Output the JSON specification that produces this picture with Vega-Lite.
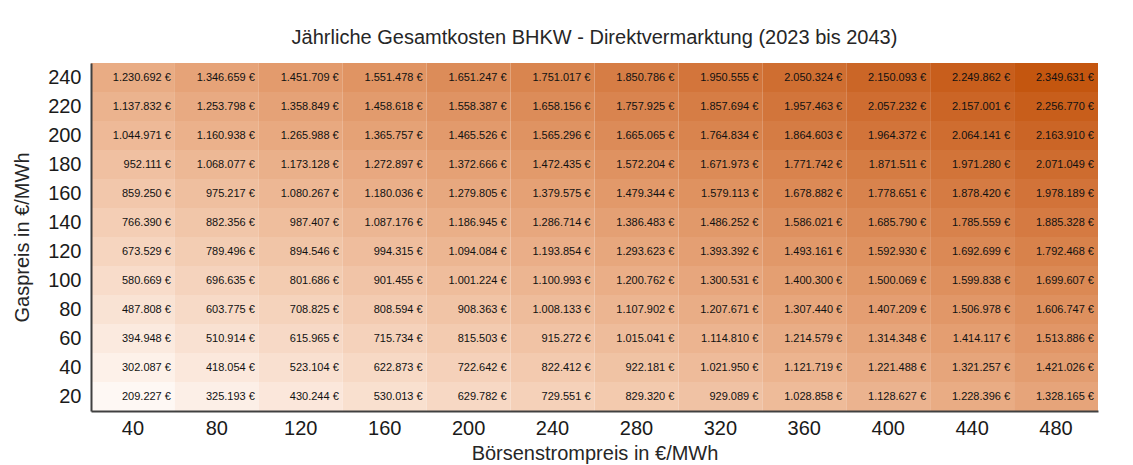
{
  "$schema": "https://vega.github.io/schema/vega-lite/v6.json",
  "width": 1007,
  "height": 348,
  "autosize": {"type": "none"},
  "padding": {"left": 91, "top": 63, "right": 35, "bottom": 54},
  "background": "white",
  "config": {
    "view": {"stroke": null},
    "font": "Liberation Sans",
    "locale": {
      "number": {"decimal": ",", "thousands": ".", "grouping": [3], "currency": ["", " €"]}
    }
  },
  "title": {
    "text": "Jährliche Gesamtkosten BHKW - Direktvermarktung (2023 bis 2043)",
    "font": "Liberation Sans",
    "fontSize": 20,
    "fontWeight": "normal",
    "color": "#262626",
    "anchor": "middle",
    "offset": 15
  },
  "data": {
    "values": [
      {"gas": 240, "strom": 40, "kosten": 1230692}, {"gas": 240, "strom": 80, "kosten": 1346659}, {"gas": 240, "strom": 120, "kosten": 1451709}, {"gas": 240, "strom": 160, "kosten": 1551478}, {"gas": 240, "strom": 200, "kosten": 1651247}, {"gas": 240, "strom": 240, "kosten": 1751017}, {"gas": 240, "strom": 280, "kosten": 1850786}, {"gas": 240, "strom": 320, "kosten": 1950555}, {"gas": 240, "strom": 360, "kosten": 2050324}, {"gas": 240, "strom": 400, "kosten": 2150093}, {"gas": 240, "strom": 440, "kosten": 2249862}, {"gas": 240, "strom": 480, "kosten": 2349631},
      {"gas": 220, "strom": 40, "kosten": 1137832}, {"gas": 220, "strom": 80, "kosten": 1253798}, {"gas": 220, "strom": 120, "kosten": 1358849}, {"gas": 220, "strom": 160, "kosten": 1458618}, {"gas": 220, "strom": 200, "kosten": 1558387}, {"gas": 220, "strom": 240, "kosten": 1658156}, {"gas": 220, "strom": 280, "kosten": 1757925}, {"gas": 220, "strom": 320, "kosten": 1857694}, {"gas": 220, "strom": 360, "kosten": 1957463}, {"gas": 220, "strom": 400, "kosten": 2057232}, {"gas": 220, "strom": 440, "kosten": 2157001}, {"gas": 220, "strom": 480, "kosten": 2256770},
      {"gas": 200, "strom": 40, "kosten": 1044971}, {"gas": 200, "strom": 80, "kosten": 1160938}, {"gas": 200, "strom": 120, "kosten": 1265988}, {"gas": 200, "strom": 160, "kosten": 1365757}, {"gas": 200, "strom": 200, "kosten": 1465526}, {"gas": 200, "strom": 240, "kosten": 1565296}, {"gas": 200, "strom": 280, "kosten": 1665065}, {"gas": 200, "strom": 320, "kosten": 1764834}, {"gas": 200, "strom": 360, "kosten": 1864603}, {"gas": 200, "strom": 400, "kosten": 1964372}, {"gas": 200, "strom": 440, "kosten": 2064141}, {"gas": 200, "strom": 480, "kosten": 2163910},
      {"gas": 180, "strom": 40, "kosten": 952111}, {"gas": 180, "strom": 80, "kosten": 1068077}, {"gas": 180, "strom": 120, "kosten": 1173128}, {"gas": 180, "strom": 160, "kosten": 1272897}, {"gas": 180, "strom": 200, "kosten": 1372666}, {"gas": 180, "strom": 240, "kosten": 1472435}, {"gas": 180, "strom": 280, "kosten": 1572204}, {"gas": 180, "strom": 320, "kosten": 1671973}, {"gas": 180, "strom": 360, "kosten": 1771742}, {"gas": 180, "strom": 400, "kosten": 1871511}, {"gas": 180, "strom": 440, "kosten": 1971280}, {"gas": 180, "strom": 480, "kosten": 2071049},
      {"gas": 160, "strom": 40, "kosten": 859250}, {"gas": 160, "strom": 80, "kosten": 975217}, {"gas": 160, "strom": 120, "kosten": 1080267}, {"gas": 160, "strom": 160, "kosten": 1180036}, {"gas": 160, "strom": 200, "kosten": 1279805}, {"gas": 160, "strom": 240, "kosten": 1379575}, {"gas": 160, "strom": 280, "kosten": 1479344}, {"gas": 160, "strom": 320, "kosten": 1579113}, {"gas": 160, "strom": 360, "kosten": 1678882}, {"gas": 160, "strom": 400, "kosten": 1778651}, {"gas": 160, "strom": 440, "kosten": 1878420}, {"gas": 160, "strom": 480, "kosten": 1978189},
      {"gas": 140, "strom": 40, "kosten": 766390}, {"gas": 140, "strom": 80, "kosten": 882356}, {"gas": 140, "strom": 120, "kosten": 987407}, {"gas": 140, "strom": 160, "kosten": 1087176}, {"gas": 140, "strom": 200, "kosten": 1186945}, {"gas": 140, "strom": 240, "kosten": 1286714}, {"gas": 140, "strom": 280, "kosten": 1386483}, {"gas": 140, "strom": 320, "kosten": 1486252}, {"gas": 140, "strom": 360, "kosten": 1586021}, {"gas": 140, "strom": 400, "kosten": 1685790}, {"gas": 140, "strom": 440, "kosten": 1785559}, {"gas": 140, "strom": 480, "kosten": 1885328},
      {"gas": 120, "strom": 40, "kosten": 673529}, {"gas": 120, "strom": 80, "kosten": 789496}, {"gas": 120, "strom": 120, "kosten": 894546}, {"gas": 120, "strom": 160, "kosten": 994315}, {"gas": 120, "strom": 200, "kosten": 1094084}, {"gas": 120, "strom": 240, "kosten": 1193854}, {"gas": 120, "strom": 280, "kosten": 1293623}, {"gas": 120, "strom": 320, "kosten": 1393392}, {"gas": 120, "strom": 360, "kosten": 1493161}, {"gas": 120, "strom": 400, "kosten": 1592930}, {"gas": 120, "strom": 440, "kosten": 1692699}, {"gas": 120, "strom": 480, "kosten": 1792468},
      {"gas": 100, "strom": 40, "kosten": 580669}, {"gas": 100, "strom": 80, "kosten": 696635}, {"gas": 100, "strom": 120, "kosten": 801686}, {"gas": 100, "strom": 160, "kosten": 901455}, {"gas": 100, "strom": 200, "kosten": 1001224}, {"gas": 100, "strom": 240, "kosten": 1100993}, {"gas": 100, "strom": 280, "kosten": 1200762}, {"gas": 100, "strom": 320, "kosten": 1300531}, {"gas": 100, "strom": 360, "kosten": 1400300}, {"gas": 100, "strom": 400, "kosten": 1500069}, {"gas": 100, "strom": 440, "kosten": 1599838}, {"gas": 100, "strom": 480, "kosten": 1699607},
      {"gas": 80, "strom": 40, "kosten": 487808}, {"gas": 80, "strom": 80, "kosten": 603775}, {"gas": 80, "strom": 120, "kosten": 708825}, {"gas": 80, "strom": 160, "kosten": 808594}, {"gas": 80, "strom": 200, "kosten": 908363}, {"gas": 80, "strom": 240, "kosten": 1008133}, {"gas": 80, "strom": 280, "kosten": 1107902}, {"gas": 80, "strom": 320, "kosten": 1207671}, {"gas": 80, "strom": 360, "kosten": 1307440}, {"gas": 80, "strom": 400, "kosten": 1407209}, {"gas": 80, "strom": 440, "kosten": 1506978}, {"gas": 80, "strom": 480, "kosten": 1606747},
      {"gas": 60, "strom": 40, "kosten": 394948}, {"gas": 60, "strom": 80, "kosten": 510914}, {"gas": 60, "strom": 120, "kosten": 615965}, {"gas": 60, "strom": 160, "kosten": 715734}, {"gas": 60, "strom": 200, "kosten": 815503}, {"gas": 60, "strom": 240, "kosten": 915272}, {"gas": 60, "strom": 280, "kosten": 1015041}, {"gas": 60, "strom": 320, "kosten": 1114810}, {"gas": 60, "strom": 360, "kosten": 1214579}, {"gas": 60, "strom": 400, "kosten": 1314348}, {"gas": 60, "strom": 440, "kosten": 1414117}, {"gas": 60, "strom": 480, "kosten": 1513886},
      {"gas": 40, "strom": 40, "kosten": 302087}, {"gas": 40, "strom": 80, "kosten": 418054}, {"gas": 40, "strom": 120, "kosten": 523104}, {"gas": 40, "strom": 160, "kosten": 622873}, {"gas": 40, "strom": 200, "kosten": 722642}, {"gas": 40, "strom": 240, "kosten": 822412}, {"gas": 40, "strom": 280, "kosten": 922181}, {"gas": 40, "strom": 320, "kosten": 1021950}, {"gas": 40, "strom": 360, "kosten": 1121719}, {"gas": 40, "strom": 400, "kosten": 1221488}, {"gas": 40, "strom": 440, "kosten": 1321257}, {"gas": 40, "strom": 480, "kosten": 1421026},
      {"gas": 20, "strom": 40, "kosten": 209227}, {"gas": 20, "strom": 80, "kosten": 325193}, {"gas": 20, "strom": 120, "kosten": 430244}, {"gas": 20, "strom": 160, "kosten": 530013}, {"gas": 20, "strom": 200, "kosten": 629782}, {"gas": 20, "strom": 240, "kosten": 729551}, {"gas": 20, "strom": 280, "kosten": 829320}, {"gas": 20, "strom": 320, "kosten": 929089}, {"gas": 20, "strom": 360, "kosten": 1028858}, {"gas": 20, "strom": 400, "kosten": 1128627}, {"gas": 20, "strom": 440, "kosten": 1228396}, {"gas": 20, "strom": 480, "kosten": 1328165}
    ]
  },
  "encoding": {
    "x": {
      "field": "strom",
      "type": "ordinal",
      "sort": "ascending",
      "scale": {"paddingInner": 0, "paddingOuter": 0},
      "axis": {
        "title": "Börsenstrompreis in €/MWh",
        "titleFont": "Liberation Sans",
        "titleFontSize": 20,
        "titleFontWeight": "normal",
        "titleColor": "#262626",
        "titlePadding": 5,
        "labelAngle": 0,
        "labelFont": "Liberation Sans",
        "labelFontSize": 20,
        "labelColor": "#1a1a1a",
        "labelPadding": 7,
        "ticks": false,
        "domain": true,
        "domainColor": "#404040",
        "domainWidth": 2,
        "grid": false
      }
    },
    "y": {
      "field": "gas",
      "type": "ordinal",
      "sort": "descending",
      "scale": {"paddingInner": 0, "paddingOuter": 0},
      "axis": {
        "title": "Gaspreis in €/MWh",
        "titleFont": "Liberation Sans",
        "titleFontSize": 20,
        "titleFontWeight": "normal",
        "titleColor": "#262626",
        "titlePadding": 15,
        "labelFont": "Liberation Sans",
        "labelFontSize": 20,
        "labelColor": "#1a1a1a",
        "labelPadding": 10,
        "ticks": false,
        "domain": true,
        "domainColor": "#404040",
        "domainWidth": 2,
        "grid": false
      }
    }
  },
  "layer": [
    {
      "mark": {"type": "rect"},
      "encoding": {
        "color": {
          "field": "kosten",
          "type": "quantitative",
          "scale": {"type": "linear", "range": ["#fef8f4", "#c4560f"]},
          "legend": null
        }
      }
    },
    {
      "mark": {"type": "text", "align": "right", "baseline": "middle", "dx": -4, "fontSize": 11, "font": "Liberation Sans", "color": "#111111"},
      "encoding": {
        "x": {"field": "strom", "type": "ordinal", "bandPosition": 1},
        "text": {"field": "kosten", "type": "quantitative", "format": "$,.0f"}
      }
    }
  ]
}
